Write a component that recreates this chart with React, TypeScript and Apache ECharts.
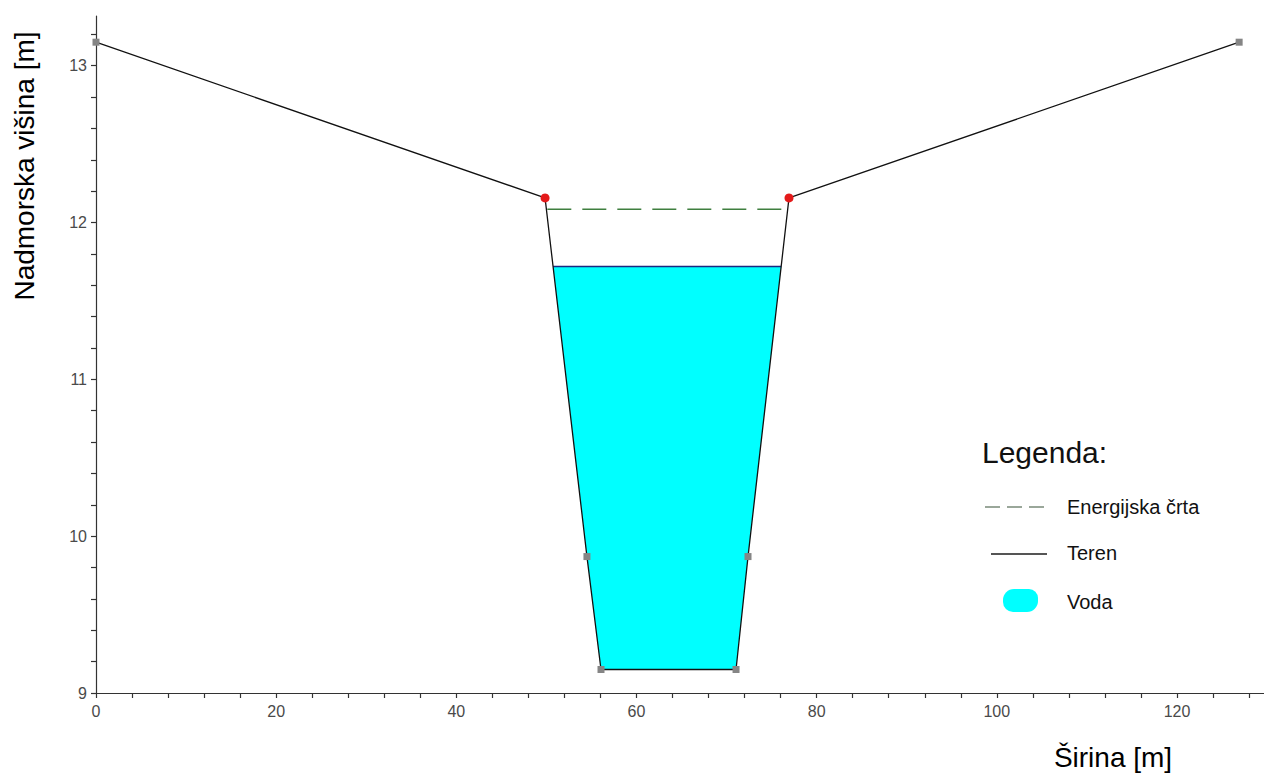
import React, { useEffect, useRef } from "react";
import * as echarts from "echarts";

// Terrain cross-section (x = width [m], y = elevation [m])
const terrainX = [0, 49.85, 54.5, 56.06, 71.05, 72.38, 76.93, 126.9];
const terrainY = [13.15, 12.157, 9.87, 9.15, 9.15, 9.87, 12.157, 13.15];
const pointKind = ["gray", "red", "gray", "gray", "gray", "gray", "red", "gray"];

// Water body
const waterX = [50.74, 54.5, 56.06, 71.05, 72.38, 76.06];
const waterY = [11.72, 9.87, 9.15, 9.15, 9.87, 11.72];

// Water surface
const surfaceX = [50.74, 76.06];
const surfaceY = [11.72, 11.72];

// Energy line
const energyX = [50.1, 76.7];
const energyY = [12.085, 12.085];

const X_MIN = 0;
const X_MAX = 129.66;
const X_INTERVAL = 4;
const Y_MIN = 9;
const Y_MAX = 13.317;
const Y_INTERVAL = 0.2;

const xTitle = "Širina [m]";
const yTitle = "Nadmorska višina [m]";
const legendTitle = "Legenda:";
const legendItems = ["Energijska črta", "Teren", "Voda"];

const FONT = "Liberation Sans, Arial, sans-serif";

export default function App() {
  const ref = useRef<HTMLDivElement>(null);

  useEffect(() => {
    if (!ref.current) return;
    document.body.style.margin = "0";
    document.body.style.overflow = "hidden";
    const chart = echarts.init(ref.current, null, { renderer: "svg" });

    const zip = (xs: number[], ys: number[]) => xs.map((x, i) => [x, ys[i]]);

    const terrainData = terrainX.map((x, i) => {
      const red = pointKind[i] === "red";
      return {
        value: [x, terrainY[i]],
        symbol: red ? "circle" : "rect",
        symbolSize: red ? 9 : 7,
        itemStyle: { color: red ? "#e41a1a" : "#858585" },
      };
    });

    const axisCommon = {
      axisLine: { show: true, lineStyle: { color: "#333", width: 1.2 } },
      axisTick: { show: true, inside: false, length: 5, lineStyle: { color: "#333", width: 1.2 } },
      splitLine: { show: false },
      minorTick: { show: false },
    };

    const isMultiple = (v: number, m: number) => Math.abs(v / m - Math.round(v / m)) < 1e-6;

    chart.setOption({
      animation: false,
      backgroundColor: "#ffffff",
      grid: { left: 96, right: 0, top: 16, bottom: 83, containLabel: false },
      xAxis: {
        type: "value",
        min: X_MIN,
        max: X_MAX,
        interval: X_INTERVAL,
        ...axisCommon,
        axisLabel: {
          margin: 10,
          color: "#4a4a4a",
          fontSize: 16,
          fontFamily: FONT,
          showMaxLabel: false,
          formatter: (v: number) => (isMultiple(v, 20) ? String(Math.round(v)) : ""),
        },
      },
      yAxis: {
        type: "value",
        min: Y_MIN,
        max: Y_MAX,
        interval: Y_INTERVAL,
        ...axisCommon,
        axisLabel: {
          margin: 9,
          color: "#4a4a4a",
          fontSize: 16,
          fontFamily: FONT,
          showMaxLabel: false,
          formatter: (v: number) => (isMultiple(v, 1) ? String(Math.round(v)) : ""),
        },
      },
      series: [
        {
          type: "custom",
          name: "Voda",
          z: 1,
          data: zip(waterX, waterY),
          renderItem: (params: any, api: any) => {
            if (params.dataIndex !== 0) return null;
            const pts = waterX.map((x, i) => api.coord([x, waterY[i]]));
            return {
              type: "polygon",
              shape: { points: pts },
              style: { fill: "#00ffff", stroke: "none" },
            };
          },
        },
        {
          type: "line",
          name: "Energijska črta",
          z: 3,
          data: zip(energyX, energyY),
          showSymbol: false,
          lineStyle: { color: "#3f7f3f", width: 1.5, type: [24, 11] },
        },
        {
          type: "line",
          name: "Gladina",
          z: 3,
          data: zip(surfaceX, surfaceY),
          showSymbol: false,
          lineStyle: { color: "#1a2a80", width: 1.5 },
        },
        {
          type: "line",
          name: "Teren",
          z: 4,
          data: terrainData,
          showSymbol: true,
          lineStyle: { color: "#111", width: 1.3 },
        },
      ],
      graphic: [
        {
          type: "text",
          x: 24,
          y: 166,
          rotation: Math.PI / 2,
          style: {
            text: yTitle,
            fill: "#000",
            font: `28px ${FONT}`,
            align: "center",
            verticalAlign: "middle",
          },
        },
        {
          type: "text",
          x: 1113,
          y: 757,
          style: {
            text: xTitle,
            fill: "#000",
            font: `28px ${FONT}`,
            align: "center",
            verticalAlign: "middle",
          },
        },
        {
          type: "text",
          x: 982,
          y: 452,
          style: {
            text: legendTitle,
            fill: "#111",
            font: `30px ${FONT}`,
            align: "left",
            verticalAlign: "middle",
          },
        },
        {
          type: "line",
          shape: { x1: 985, y1: 507, x2: 1050, y2: 507 },
          style: { stroke: "#7a8a7a", lineWidth: 1.5, lineDash: [15, 7] },
        },
        {
          type: "text",
          x: 1067,
          y: 507,
          style: {
            text: legendItems[0],
            fill: "#111",
            font: `20px ${FONT}`,
            align: "left",
            verticalAlign: "middle",
          },
        },
        {
          type: "line",
          shape: { x1: 991, y1: 554, x2: 1047, y2: 554 },
          style: { stroke: "#555", lineWidth: 1.8 },
        },
        {
          type: "text",
          x: 1067,
          y: 553,
          style: {
            text: legendItems[1],
            fill: "#111",
            font: `20px ${FONT}`,
            align: "left",
            verticalAlign: "middle",
          },
        },
        {
          type: "rect",
          shape: { x: 1003, y: 589, width: 35, height: 23, r: [11, 9, 11, 10] },
          style: { fill: "#00ffff" },
        },
        {
          type: "text",
          x: 1067,
          y: 602,
          style: {
            text: legendItems[2],
            fill: "#111",
            font: `20px ${FONT}`,
            align: "left",
            verticalAlign: "middle",
          },
        },
      ],
    });

    return () => chart.dispose();
  }, []);

  return (
    <div
      ref={ref}
      style={{ position: "fixed", left: 0, top: 0, width: 1264, height: 776, background: "#fff" }}
    />
  );
}
